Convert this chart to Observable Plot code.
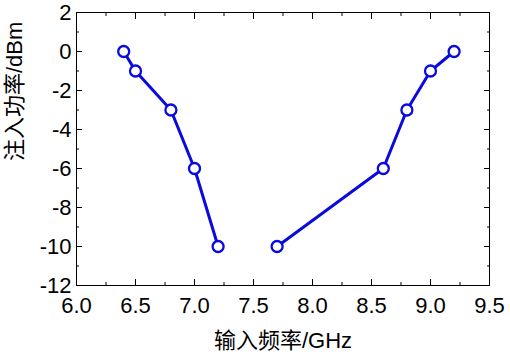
<!DOCTYPE html>
<html>
<head>
<meta charset="utf-8">
<script src="https://cdn.jsdelivr.net/npm/d3@7"></script>
<script src="https://cdn.jsdelivr.net/npm/@observablehq/plot@0.6"></script>
<style>
  html, body { margin: 0; padding: 0; background: #fff; }
</style>
</head>
<body>
<div id="chart"></div>
<script>
const freqLow = [6.4, 6.5, 6.8, 7.0, 7.2];
const powerLow = [0, -1, -3, -6, -10];
const freqHigh = [7.7, 8.6, 8.8, 9.0, 9.2];
const powerHigh = [-10, -6, -3, -1, 0];
const xMajor = [6.0, 6.5, 7.0, 7.5, 8.0, 8.5, 9.0, 9.5];
const xMinor = [6.25, 6.75, 7.25, 7.75, 8.25, 8.75, 9.25];
const yMajor = [-12, -10, -8, -6, -4, -2, 0, 2];
const yMinor = [-11, -9, -7, -5, -3, -1, 1];
const xTitle = "输入频率/GHz";
const yTitle = "注入功率/dBm";

const data = [
  ...freqLow.map((f, i) => ({f, p: powerLow[i], s: "low"})),
  ...freqHigh.map((f, i) => ({f, p: powerHigh[i], s: "high"}))
];
const blue = "#0a0adc";
const font = "'Liberation Sans', Arial, 'Noto Sans CJK SC', sans-serif";

const chart = Plot.plot({
  width: 510,
  height: 354,
  marginLeft: 76,
  marginRight: 21,
  marginTop: 12,
  marginBottom: 69,
  style: {fontFamily: font, fontSize: "22px", color: "#000", background: "#fff"},
  x: {domain: [6.0, 9.5]},
  y: {domain: [-12, 2]},
  marks: [
    Plot.axisX(xMajor, {anchor: "bottom", tickSize: 0, tickPadding: 12, tickFormat: d3.format(".1f"), fontSize: 22, label: null}),
    Plot.axisX(xMajor, {anchor: "bottom", tickSize: -6, text: null, label: null}),
    Plot.axisX(xMinor, {anchor: "bottom", tickSize: -3, text: null, label: null}),
    Plot.axisX(xMajor, {anchor: "top", tickSize: -6, text: null, label: null}),
    Plot.axisX(xMinor, {anchor: "top", tickSize: -3, text: null, label: null}),
    Plot.axisY(yMajor, {anchor: "left", tickSize: 0, tickPadding: 5, fontSize: 22, tickFormat: d => d3.format("d")(d).replace("−", "-"), label: null}),
    Plot.axisY(yMajor, {anchor: "left", tickSize: -6, text: null, label: null}),
    Plot.axisY(yMinor, {anchor: "left", tickSize: -3, text: null, label: null}),
    Plot.axisY(yMajor, {anchor: "right", tickSize: -6, text: null, label: null}),
    Plot.axisY(yMinor, {anchor: "right", tickSize: -3, text: null, label: null}),
    Plot.frame({stroke: "#000", strokeWidth: 1}),
    Plot.text([xTitle], {frameAnchor: "bottom", dy: 55, fontSize: 22, lineAnchor: "middle", fill: "#000"}),
    Plot.text([yTitle], {frameAnchor: "left", rotate: -90, dx: -62, dy: 12, fontSize: 22, lineAnchor: "middle", fill: "#000"}),
    Plot.line(data, {x: "f", y: "p", z: "s", stroke: blue, strokeWidth: 3}),
    Plot.dot(data, {x: "f", y: "p", r: 5.5, fill: "#fff", stroke: blue, strokeWidth: 2.3})
  ]
});
document.getElementById("chart").appendChild(chart);
</script>
</body>
</html>
